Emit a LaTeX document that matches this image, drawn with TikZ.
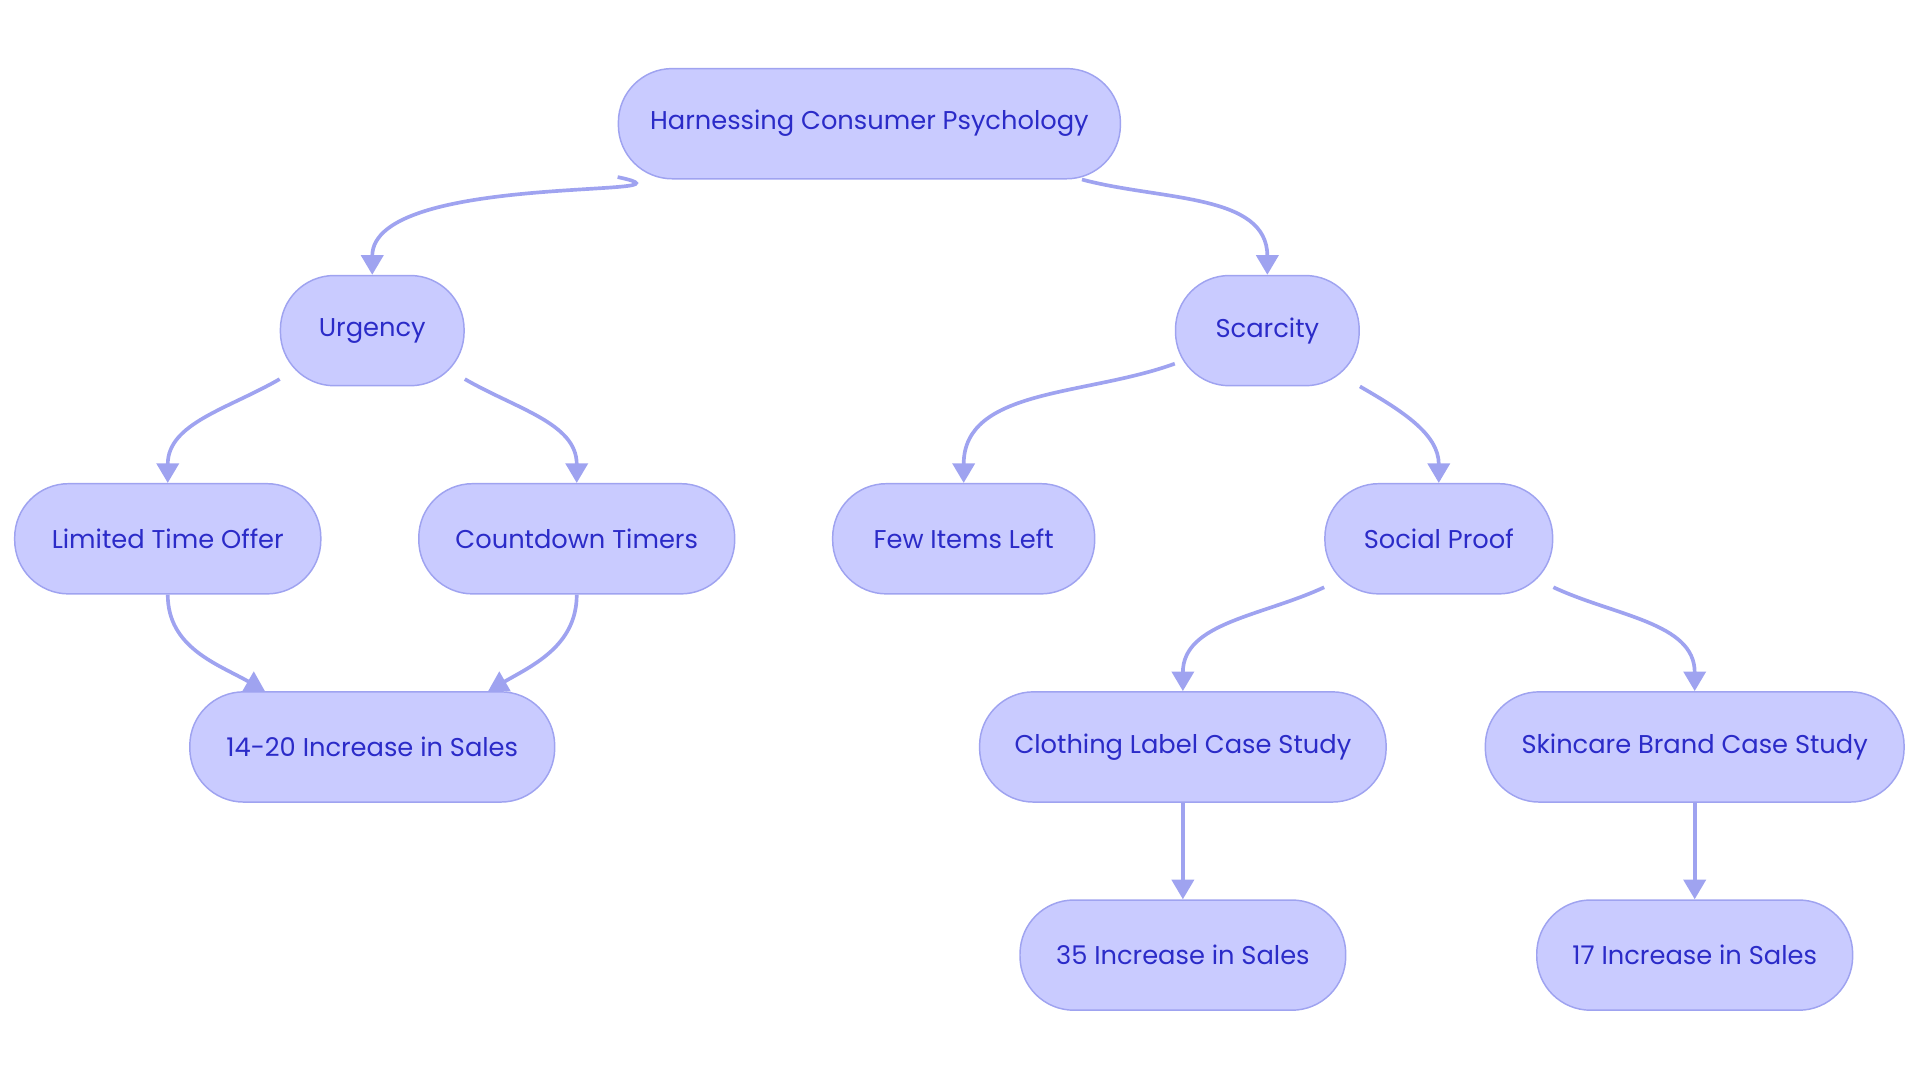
\documentclass[tikz,border=0pt]{standalone}
\usepackage{fontspec}
\setmainfont{Poppins}
\usetikzlibrary{calc, arrows.meta, positioning}
\definecolor{boxfill}{HTML}{C9CBFF}
\definecolor{boxline}{HTML}{9FA3F0}
\definecolor{boxtext}{HTML}{2B2BC8}
\begin{document}
\begin{tikzpicture}[
    x=1pt, y=-1pt,
    >={Triangle[length=16pt,width=18pt]},
    box/.style={rectangle, rounded corners=44pt, draw=boxline, line width=1.2pt,
        fill=boxfill, text=boxtext, minimum height=90pt, inner sep=0pt,
        font=\fontsize{21}{25}\selectfont},
    link/.style={->, draw=boxline, line width=3pt}
]
    \useasboundingbox (0,0) rectangle (1568,884);

    % Nodes ------------------------------------------------------

    \node[box, minimum width=410pt] (root) at (710,101) {Harnessing Consumer Psychology};
    \node[box, minimum width=150pt] (urg) at (304,270) {Urgency};
    \node[box, minimum width=150pt] (sca) at (1035,270) {Scarcity};
    \node[box, minimum width=250pt] (lto) at (137,440) {Limited Time Offer};
    \node[box, minimum width=258pt] (cdt) at (471,440) {Countdown Timers};
    \node[box, minimum width=214pt] (few) at (787,440) {Few Items Left};
    \node[box, minimum width=186pt] (sp) at (1175,440) {Social Proof};
    \node[box, minimum width=298pt] (inc) at (304,610) {14-20 Increase in Sales};
    \node[box, minimum width=332pt] (clo) at (966,610) {Clothing Label Case Study};
    \node[box, minimum width=342pt] (ski) at (1384,610) {Skincare Brand Case Study};
    \node[box, minimum width=266pt] (c35) at (966,780) {35 Increase in Sales};
    \node[box, minimum width=258pt] (c17) at (1384,780) {17 Increase in Sales};

    % Arrows ---------------------------------------------------

    \draw[link] ($(root.south west)+(0,-2)$) to[out=-12,in=90] (urg.north);
    \draw[link] ($(root.south east)+(-32,0)$) to[out=-15,in=90] (sca.north);

    \draw[link] ($(urg.south west)+(0,-6)$) to[out=-150,in=90] (lto.north);
    \draw[link] ($(urg.south east)+(0,-6)$) to[out=-30,in=90] (cdt.north);
    \draw[link] ($(sca.west)+(0,27)$) to[out=-160,in=90] (few.north);
    \draw[link] (sca.south east) to[out=-30,in=90] (sp.north);

    \draw[link] (lto.south) to[out=-90,in=150] ($(inc.north west)+(62,0)$);
    \draw[link] (cdt.south) to[out=-90,in=30] ($(inc.north east)+(-55,0)$);

    \draw[link] ($(sp.south west)+(0,-6)$) to[out=-155,in=90] (clo.north);
    \draw[link] ($(sp.south east)+(0,-6)$) to[out=-25,in=90] (ski.north);
    \draw[link] (clo.south) -- (c35.north);
    \draw[link] (ski.south) -- (c17.north);

\end{tikzpicture}
\end{document}
